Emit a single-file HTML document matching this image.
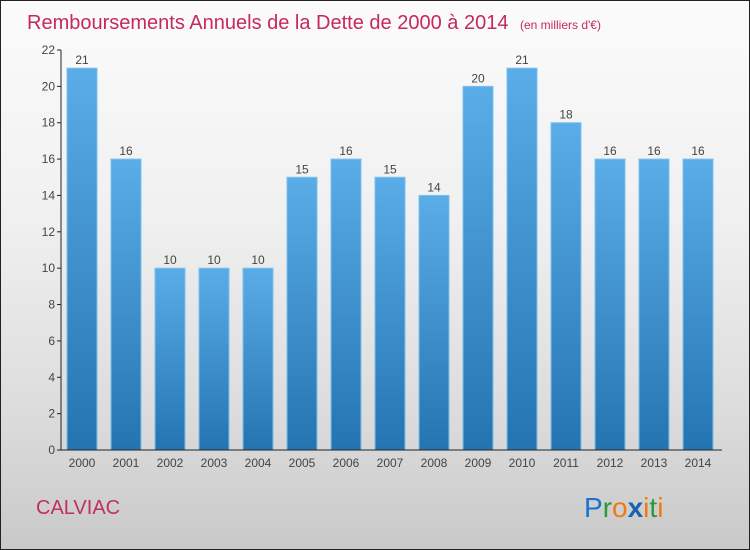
<!DOCTYPE html>
<html><head><meta charset="utf-8"><style>
body{margin:0;width:750px;height:550px;overflow:hidden}
#c{position:relative;width:748px;height:548px;border:1px solid #222;background:linear-gradient(#fbfbfb 0%,#f0f0f0 40%,#dcdcdc 75%,#c9c9c9 100%);font-family:"Liberation Sans",sans-serif}
</style></head><body>
<div id="c">
<svg id="s" width="748" height="548" style="position:absolute;left:0;top:0">
<defs><linearGradient id="g" x1="0" y1="0" x2="0" y2="1"><stop offset="0" stop-color="#5aade6"/><stop offset="1" stop-color="#2474b2"/></linearGradient></defs>
<text x="26" y="28" font-size="20" fill="#c8285a">Remboursements Annuels de la Dette de 2000 à 2014 <tspan font-size="12" dx="6">(en milliers d'€)</tspan></text>
<text x="35" y="513" font-size="20" fill="#c0305e">CALVIAC</text>
<text x="583" y="516" font-size="28"><tspan fill="#1a73c9">P</tspan><tspan fill="#2a9a3a">r</tspan><tspan fill="#f07a10">o</tspan><tspan fill="#1a5fb0" font-weight="bold">x</tspan><tspan fill="#f07a10">i</tspan><tspan fill="#2a9a3a">t</tspan><tspan fill="#f07a10">i</tspan></text>
<g id="plot"></g>
</svg>
</div>
<script>
const categories=["2000","2001","2002","2003","2004","2005","2006","2007","2008","2009","2010","2011","2012","2013","2014"];
const values=[21,16,10,10,10,15,16,15,14,20,21,18,16,16,16];
const yTicks=[0,2,4,6,8,10,12,14,16,18,20,22];
const ns="http://www.w3.org/2000/svg";
const g=document.getElementById('plot');
const X0=60,Y0=449,YTOP=49,YMAX=22,STEP=44,BW=30;
const y=v=>Y0-(Y0-YTOP)*v/YMAX;
const xc=i=>81+i*STEP;
function mk(t,a){const e=document.createElementNS(ns,t);for(const k in a)e.setAttribute(k,a[k]);g.appendChild(e);return e;}
yTicks.forEach(t=>{
 const l=mk('line',{x1:X0-4,x2:X0,y1:y(t),y2:y(t),stroke:'#222'});
 
 
 const tx=mk('text',{x:X0-6,y:y(t)+4,'font-size':12,'text-anchor':'end',fill:'#444'});tx.textContent=t;
 
 
});
values.forEach((v,i)=>{
 const r=mk('rect',{x:xc(i)-BW/2,y:y(v),width:BW,height:Y0-y(v),fill:'url(#g)',stroke:'#7cc0ef','stroke-width':1});
 
 
 const t=mk('text',{x:xc(i),y:y(v)-4,'font-size':12,'text-anchor':'middle',fill:'#444'});t.textContent=v;
 
 
 const c=mk('text',{x:xc(i),y:Y0+17,'font-size':12,'text-anchor':'middle',fill:'#444'});c.textContent=categories[i];
 
 
});
const ya=mk('line',{x1:X0,x2:X0,y1:YTOP,y2:Y0,stroke:'#222'});


const xa=mk('line',{x1:X0,x2:721,y1:Y0,y2:Y0,stroke:'#222'});


</script>
</body></html>
